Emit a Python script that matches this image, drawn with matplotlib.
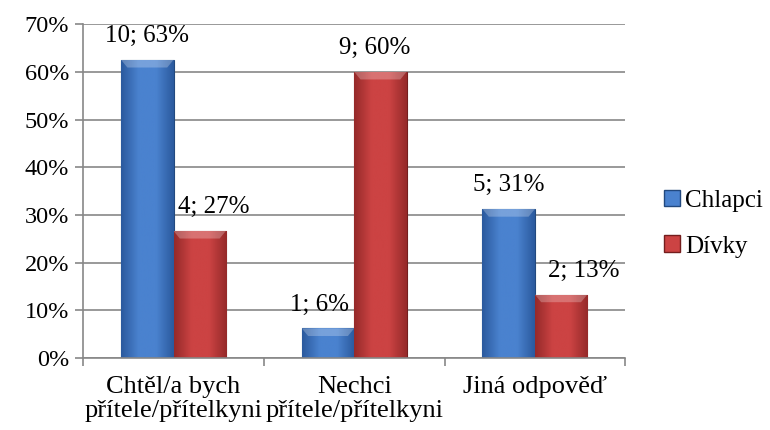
import numpy as np
import matplotlib.pyplot as plt
from matplotlib.colors import LinearSegmentedColormap

# data
categories = ['Chtěl/a bych\npřítele/přítelkyni', 'Nechci\npřítele/přítelkyni', 'Jiná odpověď']
series = ['Chlapci', 'Dívky']
chlapci_pct = [62.5, 6.25, 31.25]
divky_pct = [26.67, 60.0, 13.33]
chlapci_n = [10, 1, 5]
divky_n = [4, 9, 2]
yticks = [0, 10, 20, 30, 40, 50, 60, 70]

plt.rcParams['font.family'] = ['Liberation Serif', 'DejaVu Serif']
plt.rcParams['font.size'] = 18

fig = plt.figure(figsize=(7.7, 4.3), dpi=100)
ax = fig.add_axes([0.108, 0.167, 0.704, 0.777])

colors = {'Chlapci': ('#2b5a9e', '#4a82cf'), 'Dívky': ('#962a2a', '#cc4343')}
edges = {'Chlapci': '#22497f', 'Dívky': '#741e1e'}
width = 0.29
x = np.arange(len(categories))


def gradient_bars(ax, xs, vals, name):
    dark, light = colors[name]
    cmap = LinearSegmentedColormap.from_list(name, [dark, light, light, dark])
    bars = ax.bar(xs, vals, width, color=light, edgecolor=edges[name], lw=0.8,
                  label=name, zorder=2)
    for b in bars:
        x0, y0 = b.get_x(), b.get_y()
        w, h = b.get_width(), b.get_height()
        grad = np.linspace(0, 1, 64).reshape(1, -1)
        im = ax.imshow(grad, cmap=cmap, extent=[x0, x0 + w, y0, y0 + h],
                       aspect='auto', zorder=2.1, interpolation='bicubic')
        im.set_clip_path(b)
        # light bevel at top
        ax.fill([x0, x0 + w, x0 + w * 0.88, x0 + w * 0.12],
                [y0 + h, y0 + h, y0 + h - 1.6, y0 + h - 1.6],
                color='white', alpha=0.25, zorder=2.2, lw=0)
    return bars


b1 = gradient_bars(ax, x - width / 2, chlapci_pct, 'Chlapci')
b2 = gradient_bars(ax, x + width / 2, divky_pct, 'Dívky')

# data labels
offsets_c = [0, -6, 0]
offsets_d = [10, -4, 16]
for i in range(len(categories)):
    ax.annotate('{}; {}%'.format(chlapci_n[i], int(chlapci_pct[i] + 0.5)),
                (x[i] - width / 2, chlapci_pct[i]), xytext=(offsets_c[i], 17),
                textcoords='offset points', ha='center', va='center')
    ax.annotate('{}; {}%'.format(divky_n[i], int(divky_pct[i] + 0.5)),
                (x[i] + width / 2, divky_pct[i]), xytext=(offsets_d[i], 17),
                textcoords='offset points', ha='center', va='center')

ax.set_xlim(-0.5, len(categories) - 0.5)
ax.set_ylim(0, 70)
ax.set_yticks(yticks)
ax.set_yticklabels(['{}%'.format(t) for t in yticks], fontsize=17.5)
ax.yaxis.grid(True, color='#878787', lw=1.2, zorder=0)
ax.set_axisbelow(True)

ax.set_xticks(x)
ax.set_xticklabels(categories, linespacing=1.1, fontsize=19)
ax.tick_params(axis='x', length=0, pad=13)
ax.set_xticks(np.arange(-0.5, len(categories), 1), minor=True)
ax.tick_params(axis='x', which='minor', length=6, color='#878787', width=1.2)
ax.tick_params(axis='y', length=6, color='#878787', width=1.2, pad=4)

for s in ['top', 'right']:
    ax.spines[s].set_visible(False)
for s in ['left', 'bottom']:
    ax.spines[s].set_color('#878787')
    ax.spines[s].set_linewidth(1.2)

handles = [plt.Rectangle((0, 0), 1, 1, fc=colors[n][1], ec=edges[n]) for n in series]
fig.legend(handles, series, loc='center left', bbox_to_anchor=(0.862, 0.48),
           frameon=False, handlelength=0.65, handleheight=0.65, handletextpad=0.2,
           labelspacing=0.95, borderpad=0, borderaxespad=0, fontsize=18)

plt.savefig('out.png', dpi=100)
